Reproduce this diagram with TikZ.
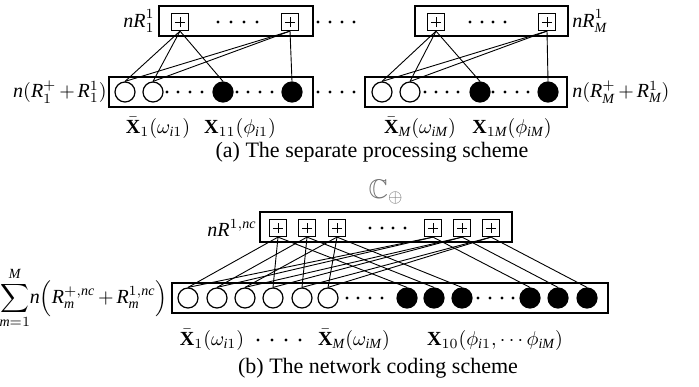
\documentclass[tikz,border=0pt]{standalone}
\usepackage{amsmath,amssymb}
\usepackage{fontspec}
\setmainfont{Liberation Serif}
\newcommand\vi[1]{\mathit{#1}}
\begin{document}
\medmuskip=2.5mu\relax
\begin{tikzpicture}[x=0.5pt,y=-0.5pt,
  layer/.style={draw, line width=0.6pt, inner sep=0pt, minimum height=15pt},
  plusbox/.style={draw, line width=0.6pt, minimum size=8.5pt, inner sep=0pt,
    path picture={
      \draw[line width=0.5pt] ([xshift=-2.6pt]path picture bounding box.center) -- ([xshift=2.6pt]path picture bounding box.center);
      \draw[line width=0.5pt] ([yshift=-2.6pt]path picture bounding box.center) -- ([yshift=2.6pt]path picture bounding box.center);}},
  wnode/.style={circle, draw, line width=0.6pt, fill=white, minimum size=10pt, inner sep=0pt},
  bnode/.style={circle, draw, line width=0.6pt, fill=black, minimum size=10pt, inner sep=0pt},
  link/.style={line width=0.45pt},
  lbl/.style={inner sep=0pt, font=\fontsize{11}{13}\selectfont},
  mlbl/.style={inner sep=0pt, font=\fontsize{10}{12}\selectfont},
  dot/.style={fill=black}]
\useasboundingbox (0,0) rectangle (699,386);

% ---------------- (a) separate processing ----------------
\node[layer, minimum width=77pt] (topL) at (236,21) {};
\node[layer, minimum width=102pt] (botL) at (211,92) {};
\node[layer, minimum width=76.5pt] (topR) at (491.5,21) {};
\node[layer, minimum width=101pt] (botR) at (466,92) {};

\node[plusbox] (pa1) at (180,22) {};
\node[plusbox] (pa2) at (290,22) {};
\node[plusbox] (pa3) at (436,22) {};
\node[plusbox] (pa4) at (547,22) {};

\node[wnode] (wa1) at (125,92) {};
\node[wnode] (wa2) at (153,92) {};
\node[bnode] (ba1) at (223,92) {};
\node[bnode] (ba2) at (292,92) {};
\node[wnode] (wa3) at (382,92) {};
\node[wnode] (wa4) at (410,92) {};
\node[bnode] (ba3) at (480,92) {};
\node[bnode] (ba4) at (548,92) {};

\foreach \x in {218,231,244,257, 470,482,493,505, 318,330,342,354} \fill[dot] (\x,22) circle[radius=0.8pt];
\foreach \x in {167,178,190,202, 237,248,260,272, 318,330,342,354, 425,436,447,458, 493,505,517,528} \fill[dot] (\x,92) circle[radius=0.8pt];

\foreach \p/\c in {pa1/wa1,pa1/wa2,pa1/ba1,pa2/wa1,pa2/wa2,pa2/ba2,
                   pa3/wa3,pa3/wa4,pa3/ba3,pa4/wa3,pa4/wa4,pa4/ba4}
  \draw[link] (\p.south) -- (\c.north);

\node[mlbl, anchor=east] (la1) at (155,21) {$\vi{nR}_1^1$};
\node[mlbl, anchor=west] (la2) at (572,21) {$\vi{nR}_{\vi{M}}^1$};
\node[mlbl, anchor=east] (la3) at (107,92) {$\vi{n}(\vi{R}_1^{+}+\vi{R}_1^{1})$};
\node[mlbl, anchor=west] (la4) at (572,92) {$\vi{n}(\vi{R}_{\vi{M}}^{+}+\vi{R}_{\vi{M}}^{1})$};
\node[mlbl] (la5) at (158,128) {$\bar{\mathbf{X}}_1(\omega_{\vi{i}1})$};
\node[mlbl] (la6) at (240,128) {$\mathbf{X}_{11}(\phi_{\vi{i}1})$};
\node[mlbl] (la7) at (420,128) {$\bar{\mathbf{X}}_{\vi{M}}(\omega_{\vi{iM}})$};
\node[mlbl] (la8) at (512,128) {$\mathbf{X}_{1\vi{M}}(\phi_{\vi{iM}})$};
\node[lbl] (capa) at (372,152) {(a) The separate processing scheme};

% ---------------- (b) network coding ----------------
\node[inner sep=0pt, font=\fontsize{13.5}{15}\selectfont, text=black!55] (cplus) at (386,192) {$\mathbb{C}_{\oplus}$};
\node[layer, minimum width=126pt] (topB) at (386,227) {};
\node[layer, minimum width=218pt] (botB) at (390,298) {};

\foreach \i/\x in {1/278,2/307,3/337,4/433,5/462,6/491}
  \node[plusbox] (pb\i) at (\x,228) {};
\foreach \i/\x in {1/188,2/217,3/245,4/273,5/302,6/328}
  \node[wnode] (wb\i) at (\x,298) {};
\foreach \i/\x in {1/407,2/434,3/462,4/530,5/558,6/587}
  \node[bnode] (bb\i) at (\x,298) {};

\foreach \x in {370,382,393,405} \fill[dot] (\x,228) circle[radius=0.8pt];
\foreach \x in {347,358,370,382, 478,490,502,513} \fill[dot] (\x,298) circle[radius=0.8pt];
\foreach \x in {258,272,286,300} \fill[dot] (\x,340) circle[radius=0.8pt];

\foreach \p/\c in {pb1/wb1,pb1/wb4,pb1/bb1,
                   pb2/wb2,pb2/wb5,pb2/bb2,
                   pb3/wb3,pb3/wb6,pb3/bb3,
                   pb4/wb1,pb4/wb2,pb4/bb4,
                   pb5/wb3,pb5/wb4,pb5/bb5,
                   pb6/wb5,pb6/wb6,pb6/bb6}
  \draw[link] (\p.south) -- (\c.north);

\node[mlbl, anchor=east] (lb1) at (257,228) {$\vi{nR}^{1,\vi{nc}}$};
\node[mlbl, anchor=east] (lb2) at (168,298) {$\displaystyle\sum_{\vi{m}=1}^{\vi{M}}\!\vi{n}\Bigl(\vi{R}_{\vi{m}}^{+,\vi{nc}}+\vi{R}_{\vi{m}}^{1,\vi{nc}}\Bigr)$};
\node[mlbl] (lb3) at (212,340) {$\bar{\mathbf{X}}_1(\omega_{\vi{i}1})$};
\node[mlbl] (lb4) at (354,340) {$\bar{\mathbf{X}}_{\vi{M}}(\omega_{\vi{iM}})$};
\node[mlbl] (lb5) at (495,340) {$\mathbf{X}_{10}(\phi_{\vi{i}1},\cdots\phi_{\vi{iM}})$};
\node[lbl] (capb) at (378,368) {(b) The network coding scheme};
\end{tikzpicture}
\end{document}
